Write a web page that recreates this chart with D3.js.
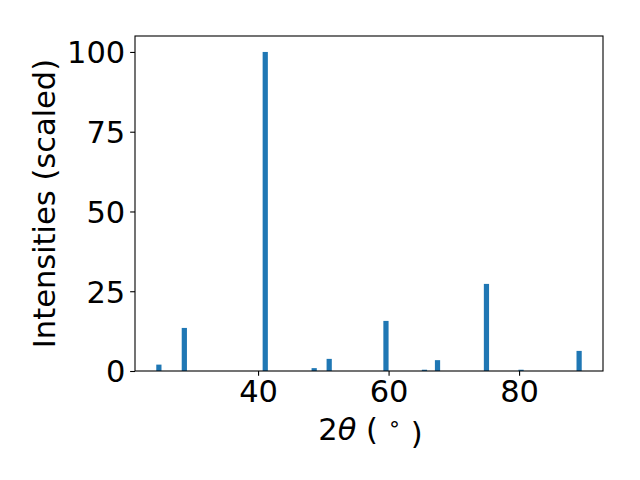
<!DOCTYPE html>
<html>
<head>
<meta charset="utf-8">
<script src="https://cdn.jsdelivr.net/npm/d3@7"></script>
<style>
html,body{margin:0;padding:0;background:#fff;}
svg{display:block;}
text{font-family:"DejaVu Sans",sans-serif;}
</style>
</head>
<body>
<svg id="chart" width="640" height="480"></svg>
<script>
const twoTheta = [24.8, 28.7, 41.1, 48.6, 50.9, 59.6, 65.5, 67.5, 75.0, 80.3, 89.2];
const intensities = [2.0, 13.5, 100, 0.9, 3.8, 15.7, 0.4, 3.4, 27.3, 0.4, 6.3];
const xTicks = [40, 60, 80];
const yTicks = [0, 25, 50, 75, 100];
const barWidth = 0.8;

(function () {
const svg = d3.select("#chart");
const pL = 135, pR = 603, pT = 36, pB = 371;
const fs = 30.5;

const lo = d3.min(twoTheta) - barWidth/2, hi = d3.max(twoTheta) + barWidth/2;
const m = (hi - lo) * 0.05;
const x = d3.scaleLinear().domain([lo - m, hi + m]).range([pL, pR]);
const y = d3.scaleLinear().domain([0, 105]).range([pB, pT]);

svg.append("g").selectAll("rect").data(twoTheta).join("rect")
  .attr("x", (d) => x(d - barWidth/2))
  .attr("width", (d) => x(d + barWidth/2) - x(d - barWidth/2))
  .attr("y", (d, i) => y(intensities[i]))
  .attr("height", (d, i) => y(0) - y(intensities[i]))
  .attr("fill", "#1f77b4");

const xAxis = svg.append("g").attr("transform", `translate(0,${pB})`)
  .call(d3.axisBottom(x).tickValues(xTicks).tickSize(4.86).tickPadding(4.86).tickFormat(d3.format("d")));
const yAxis = svg.append("g").attr("transform", `translate(${pL},0)`)
  .call(d3.axisLeft(y).tickValues(yTicks).tickSize(4.86).tickPadding(4.86).tickFormat(d3.format("d")));
[xAxis, yAxis].forEach(g => {
  g.select(".domain").remove();
  g.selectAll(".tick line").attr("stroke", "#000").attr("stroke-width", 1.1);
  g.selectAll(".tick text").attr("fill", "#000").style("font-size", fs + "px").style("font-family", "DejaVu Sans");
});
yAxis.selectAll(".tick text").attr("dy", "0.36em");

svg.append("rect").attr("x", pL).attr("y", pT).attr("width", pR - pL).attr("height", pB - pT)
  .attr("fill", "none").attr("stroke", "#000").attr("stroke-width", 1.1);

const xl = svg.append("text").attr("x", 370.5).attr("y", 440)
  .attr("text-anchor", "middle").style("font-size", fs + "px").attr("fill", "#000");
xl.append("tspan").text("2");
xl.append("tspan").text("θ").style("font-style", "italic");
xl.append("tspan").text(" ( ");
xl.append("tspan").text("∘").attr("dy", "-0.4em").style("font-size", (fs*0.7) + "px");
xl.append("tspan").text(" )").attr("dy", "0.4em");

svg.append("text").attr("transform", `translate(55,${(pT + pB) / 2}) rotate(-90)`)
  .attr("text-anchor", "middle").style("font-size", fs + "px").attr("fill", "#000")
  .text("Intensities (scaled)");
})();
</script>
</body>
</html>
